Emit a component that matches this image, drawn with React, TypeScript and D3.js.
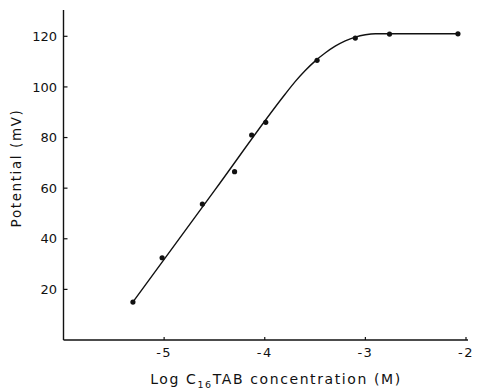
import React from "react";
import * as d3 from "d3";

const W = 477;
const H = 391;

// Measured points: log concentration vs potential (mV)
const logConc = [-5.31, -5.02, -4.62, -4.3, -4.13, -3.99, -3.48, -3.1, -2.76, -2.08];
const potential = [15, 32.5, 53.7, 66.5, 81, 86, 110.5, 119.3, 120.9, 121];

// Fitted curve
const fitX = [-5.31, -4.5, -3.8, -3.7, -3.6, -3.5, -3.4, -3.3, -3.2, -3.1, -3.0, -2.9, -2.08];
const fitY = [15, 59, 97, 102, 106.4, 110.2, 113.4, 116.1, 118.2, 119.7, 120.6, 121, 121];

const xTicks = [-5, -4, -3, -2];
const yTicks = [20, 40, 60, 80, 100, 120];

export default function App() {
  const x = d3.scaleLinear().domain([-6, -2]).range([63.5, 466]);
  const y = d3.scaleLinear().domain([0, 130]).range([340, 11]);

  const fit = fitX.map((v, i) => [v, fitY[i]] as [number, number]);
  const line = d3
    .line<[number, number]>()
    .x((d) => x(d[0]))
    .y((d) => y(d[1]))
    .curve(d3.curveMonotoneX);

  const font = "'DejaVu Sans', 'Liberation Sans', sans-serif";

  return (
    <svg
      width={W}
      height={H}
      style={{ position: "absolute", left: 0, top: 0, background: "#fff" }}
      fontFamily={font}
    >
      <rect width={W} height={H} fill="#fff" />
      {/* axes */}
      <line x1={x(-6)} x2={x(-6)} y1={10} y2={y(0)} stroke="#111" strokeWidth={1.4} />
      <line x1={x(-6)} x2={468} y1={y(0)} y2={y(0)} stroke="#111" strokeWidth={1.4} />
      {yTicks.map((t) => (
        <g key={"y" + t}>
          <line x1={x(-6)} x2={x(-6) + 4} y1={y(t)} y2={y(t)} stroke="#111" strokeWidth={1.2} />
          <text x={57} y={y(t)} dy="0.36em" textAnchor="end" fontSize={13} fill="#111">
            {t}
          </text>
        </g>
      ))}
      {xTicks.map((t) => (
        <g key={"x" + t}>
          <line x1={x(t)} x2={x(t)} y1={y(0)} y2={y(0) - 3} stroke="#111" strokeWidth={1.2} />
          <text x={x(t)} y={357} textAnchor="middle" fontSize={13} fill="#111" letterSpacing={1.5}>
            {"-" + Math.abs(t)}
          </text>
        </g>
      ))}
      {/* axis titles */}
      <text
        transform={`translate(21, 168) rotate(-90)`}
        textAnchor="middle"
        fontSize={13.5}
        fill="#111"
        letterSpacing={1.6}
      >
        Potential (mV)
      </text>
      <text x={276} y={384} textAnchor="middle" fontSize={14} fill="#111" letterSpacing={1.6}>
        Log C<tspan fontSize={9.5} dy={3.5}>16</tspan>
        <tspan dy={-3.5}>TAB concentration (M)</tspan>
      </text>
      {/* fitted curve */}
      <path d={line(fit) || ""} fill="none" stroke="#111" strokeWidth={1.4} />
      {/* points */}
      {logConc.map((v, i) => (
        <circle key={i} cx={x(v)} cy={y(potential[i])} r={2.6} fill="#111" />
      ))}
    </svg>
  );
}
